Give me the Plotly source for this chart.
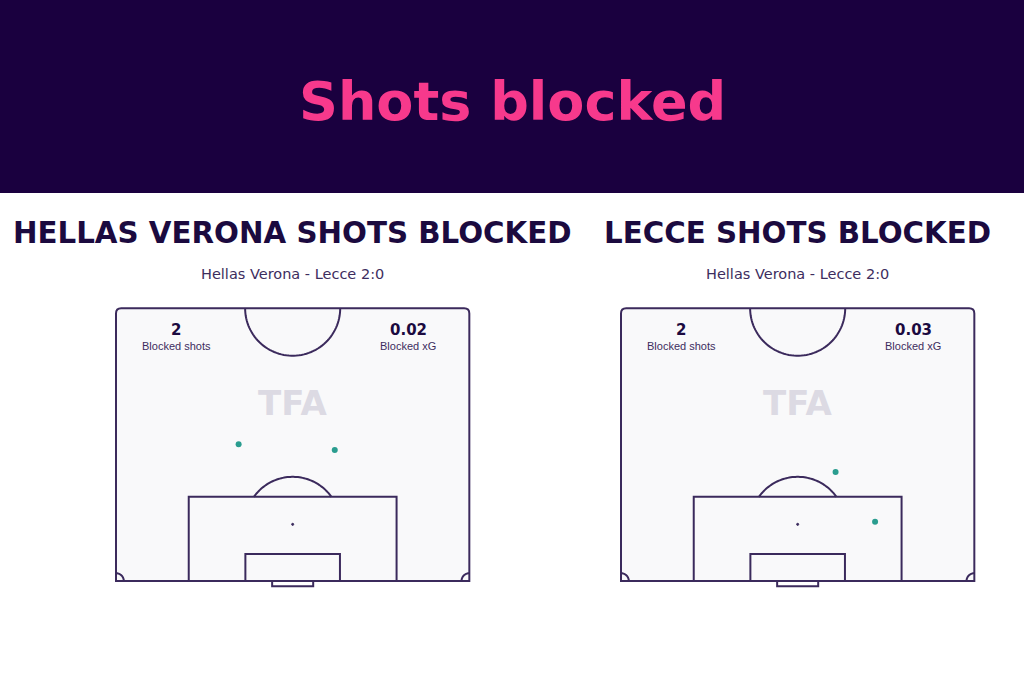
import numpy as np
import plotly.graph_objects as go

W, H = 1024, 683

# ---- data ----
teams = ["HELLAS VERONA", "LECCE"]
match_label = "Hellas Verona - Lecce 2:0"
blocked_shots = [2, 2]
blocked_xg = ["0.02", "0.03"]
# shot locations (x across pitch width 0-68 m, y distance from goal line m)
shots_x = [[23.6, 42.1], [41.3, 48.9]]
shots_y = [[26.3, 25.2], [21.0, 11.4]]

# ---- style ----
HEADER = "#1a003f"
PINK = "#f7398c"
NAVY = "#1b0a3f"
LINE = "#3b2a5c"
PITCH_FILL = "#f9f9fa"
SUB = "#3d2d5e"
WATER = "#dcdae3"
TEAL = "#2a9d8f"

# pitch geometry (m)
PW, PL = 68.0, 52.5
BOX_W, BOX_D = 40.0, 16.2
SIX_W, SIX_D = 18.2, 5.2
GOAL_W, GOAL_D = 7.9, 1.0
SPOT = 10.9
R = 9.15
CORNER_R = 1.5

S = 5.196  # px per metre
pitch_left_px = [116.0, 621.0]
goal_line_px = 581.0
XR = [-3.0, 71.0]
YR = [-4.0, 54.5]

fig = go.Figure()

def arc(cx, cy, r, a0, a1, n=60):
    t = np.linspace(np.radians(a0), np.radians(a1), n)
    xs = cx + r * np.cos(t)
    ys = cy + r * np.sin(t)
    return "M " + " L ".join(f"{x:.3f},{y:.3f}" for x, y in zip(xs, ys))

layout_axes = {}
shapes = []
annotations = []

def txt(x, y, xref, yref, text, family, size, color):
    return dict(x=x, y=y, xref=xref, yref=yref, text=text, showarrow=False,
                xanchor="center", yanchor="middle",
                font=dict(family=family, size=size, color=color))

for i in range(2):
    ax = "" if i == 0 else str(i + 1)
    xref, yref = "x" + ax, "y" + ax
    x0 = pitch_left_px[i]
    layout_axes["xaxis" + ax] = dict(
        domain=[(x0 + XR[0] * S) / W, (x0 + XR[1] * S) / W],
        range=XR, visible=False, fixedrange=True)
    layout_axes["yaxis" + ax] = dict(
        domain=[(H - (goal_line_px - YR[0] * S)) / H, (H - (goal_line_px - YR[1] * S)) / H],
        range=YR, visible=False, fixedrange=True)

    ln = dict(color=LINE, width=2)
    rr = 1.0
    outline = (f"M 0,0 L 0,{PL-rr} Q 0,{PL} {rr},{PL} L {PW-rr},{PL} "
               f"Q {PW},{PL} {PW},{PL-rr} L {PW},0 Z")
    shapes.append(dict(type="path", path=outline, xref=xref, yref=yref,
                       line=ln, fillcolor=PITCH_FILL, layer="below"))
    shapes.append(dict(type="path", path=arc(PW/2, PL, R, 180, 360), xref=xref, yref=yref, line=ln))
    shapes.append(dict(type="rect", x0=(PW-BOX_W)/2, x1=(PW+BOX_W)/2, y0=0, y1=BOX_D,
                       xref=xref, yref=yref, line=ln))
    shapes.append(dict(type="rect", x0=(PW-SIX_W)/2, x1=(PW+SIX_W)/2, y0=0, y1=SIX_D,
                       xref=xref, yref=yref, line=ln))
    shapes.append(dict(type="rect", x0=(PW-GOAL_W)/2, x1=(PW+GOAL_W)/2, y0=-GOAL_D, y1=0,
                       xref=xref, yref=yref, line=ln))
    ang = np.degrees(np.arcsin((BOX_D - SPOT) / R))
    shapes.append(dict(type="path", path=arc(PW/2, SPOT, R, ang, 180 - ang), xref=xref, yref=yref, line=ln))
    shapes.append(dict(type="circle", x0=PW/2-0.2, x1=PW/2+0.2, y0=SPOT-0.2, y1=SPOT+0.2,
                       xref=xref, yref=yref, line=dict(color=LINE, width=1), fillcolor=LINE))
    shapes.append(dict(type="path", path=arc(0, 0, CORNER_R, 0, 90, 20), xref=xref, yref=yref, line=ln))
    shapes.append(dict(type="path", path=arc(PW, 0, CORNER_R, 90, 180, 20), xref=xref, yref=yref, line=ln))

    fig.add_trace(go.Scatter(x=shots_x[i], y=shots_y[i], mode="markers", xaxis=xref, yaxis=yref,
                             marker=dict(color=TEAL, size=6, line=dict(width=0)),
                             showlegend=False, hoverinfo="skip"))

    annotations += [
        txt(11.55, 48.4, xref, yref, f"<b>{blocked_shots[i]}</b>", "DejaVu Sans", 15, NAVY),
        txt(11.55, 45.2, xref, yref, "Blocked shots", "Liberation Sans", 11, SUB),
        txt(56.2, 48.4, xref, yref, f"<b>{blocked_xg[i]}</b>", "DejaVu Sans", 15, NAVY),
        txt(56.2, 45.2, xref, yref, "Blocked xG", "Liberation Sans", 11, SUB),
        txt(34, 34.3, xref, yref, "<b>TFA</b>", "DejaVu Sans", 34, WATER),
    ]

    cx = (x0 + PW / 2 * S) / W
    annotations += [
        txt(cx, 1 - 233 / H, "paper", "paper", f"<b>{teams[i]} SHOTS BLOCKED</b>", "DejaVu Sans", 29.3, NAVY),
        txt(cx, 1 - 274 / H, "paper", "paper", match_label, "DejaVu Sans", 14.5, SUB),
    ]

shapes.insert(0, dict(type="rect", xref="paper", yref="paper", x0=0, x1=1, y0=1 - 193 / H, y1=1,
                      fillcolor=HEADER, line=dict(width=0), layer="below"))
annotations.append(txt(0.5, 1 - 101 / H, "paper", "paper", "<b>Shots blocked</b>", "DejaVu Sans", 54, PINK))

fig.update_layout(width=W, height=H, margin=dict(l=0, r=0, t=0, b=0),
                  paper_bgcolor="white", plot_bgcolor="rgba(0,0,0,0)",
                  shapes=shapes, annotations=annotations, showlegend=False, **layout_axes)

fig.write_html("out.html", config={"displayModeBar": False},
               post_script="document.body.style.margin='0';document.body.style.overflow='hidden';")
